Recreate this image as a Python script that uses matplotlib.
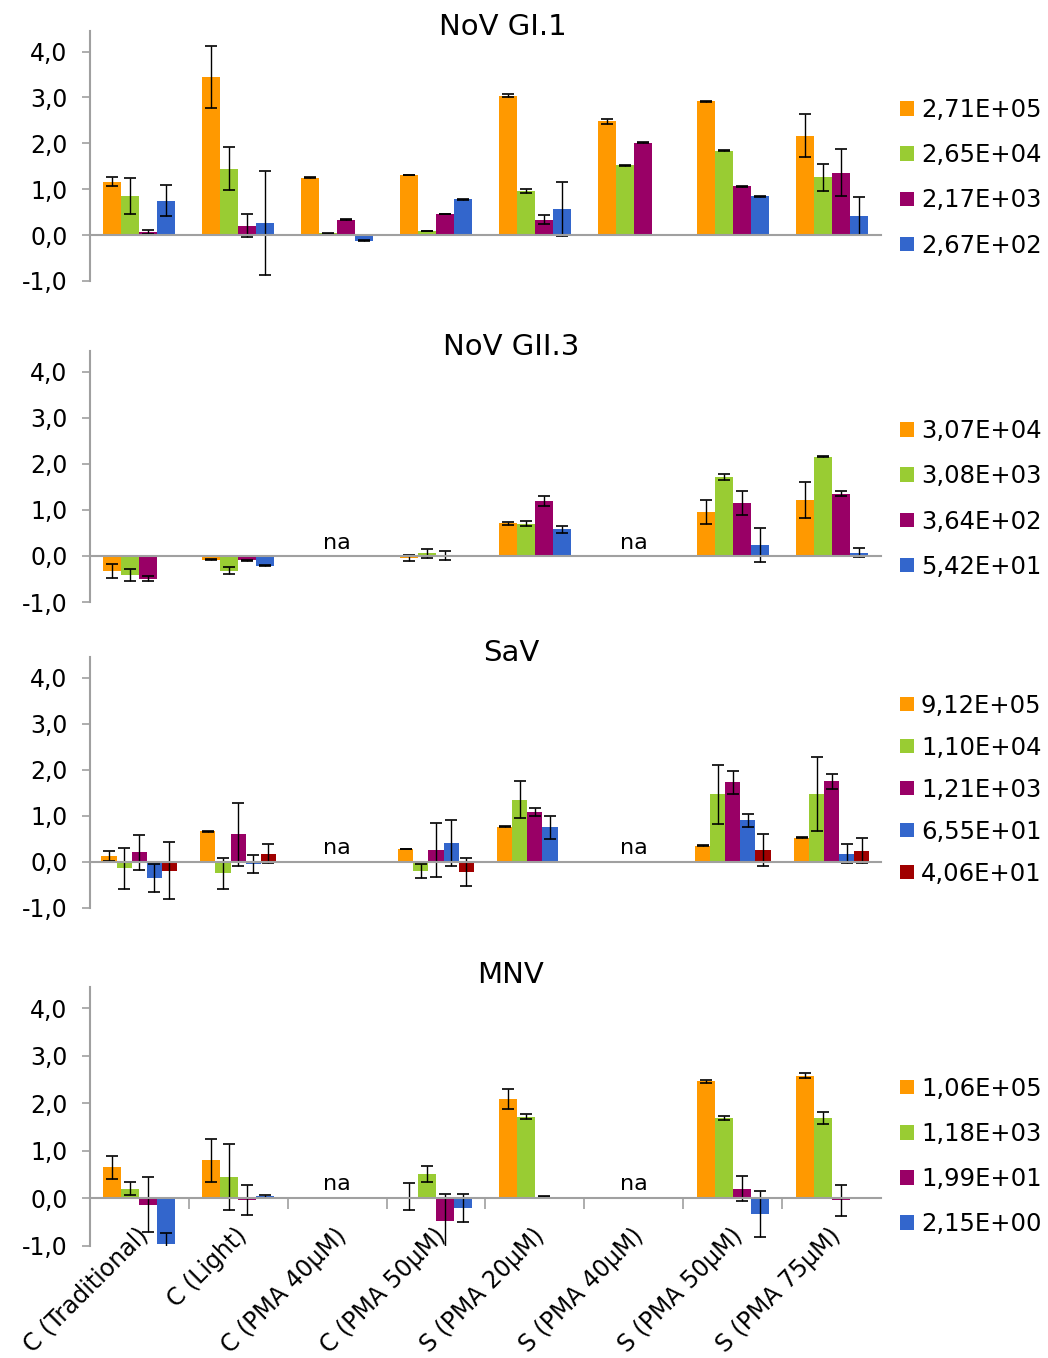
import numpy as np
import matplotlib
matplotlib.use("Agg")
import matplotlib.pyplot as plt
import matplotlib.transforms as mtransforms
from matplotlib.ticker import FuncFormatter

plt.rcParams['font.family'] = ['DejaVu Sans']

nan = np.nan
categories = ["C (Traditional)", "C (Light)", "C (PMA 40µM)", "C (PMA 50µM)",
              "S (PMA 20µM)", "S (PMA 40µM)", "S (PMA 50µM)", "S (PMA 75µM)"]
colors = ["#FF9900", "#99CC33", "#990066", "#3366CC", "#A00000"]

# NoV GI.1
gi1_labels = ["2,71E+05", "2,65E+04", "2,17E+03", "2,67E+02"]
gi1_vals = [[1.16, 3.44, 1.25, 1.31, 3.04, 2.48, 2.92, 2.17],
            [0.85, 1.45, 0.04, 0.09, 0.96, 1.52, 1.84, 1.26],
            [0.07, 0.20, 0.34, 0.46, 0.34, 2.01, 1.06, 1.36],
            [0.75, 0.26, -0.12, 0.78, 0.57, nan, 0.85, 0.42]]
gi1_errs = [[0.10, 0.68, 0.01, 0.01, 0.03, 0.06, 0.01, 0.47],
            [0.40, 0.46, 0.01, 0.01, 0.05, 0.01, 0.01, 0.29],
            [0.04, 0.25, 0.01, 0.01, 0.09, 0.01, 0.01, 0.51],
            [0.34, 1.14, 0.01, 0.01, 0.58, nan, 0.01, 0.42]]

# NoV GII.3
gii3_labels = ["3,07E+04", "3,08E+03", "3,64E+02", "5,42E+01"]
gii3_vals = [[-0.32, -0.08, nan, -0.04, 0.71, nan, 0.96, 1.22],
             [-0.41, -0.32, nan, 0.06, 0.70, nan, 1.72, 2.15],
             [-0.49, -0.09, nan, 0.01, 1.19, nan, 1.15, 1.35],
             [nan, -0.21, nan, nan, 0.58, nan, 0.24, 0.07]]
gii3_errs = [[0.15, 0.01, nan, 0.07, 0.03, nan, 0.26, 0.39],
             [0.13, 0.08, nan, 0.10, 0.05, nan, 0.07, 0.01],
             [0.05, 0.01, nan, 0.10, 0.11, nan, 0.25, 0.05],
             [nan, 0.01, nan, nan, 0.08, nan, 0.37, 0.10]]

# SaV
sav_labels = ["9,12E+05", "1,10E+04", "1,21E+03", "6,55E+01", "4,06E+01"]
sav_vals = [[0.13, 0.67, nan, 0.28, 0.76, nan, 0.35, 0.53],
            [-0.14, -0.25, nan, -0.20, 1.35, nan, 1.47, 1.47],
            [0.21, 0.60, nan, 0.26, 1.09, nan, 1.73, 1.75],
            [-0.35, -0.04, nan, 0.42, 0.75, nan, 0.90, 0.18],
            [-0.19, 0.18, nan, -0.22, nan, nan, 0.26, 0.24]]
sav_errs = [[0.11, 0.01, nan, 0.01, 0.01, nan, 0.01, 0.01],
            [0.45, 0.33, nan, 0.16, 0.40, nan, 0.64, 0.80],
            [0.38, 0.69, nan, 0.58, 0.09, nan, 0.25, 0.17],
            [0.30, 0.20, nan, 0.50, 0.25, nan, 0.14, 0.20],
            [0.62, 0.20, nan, 0.30, nan, nan, 0.34, 0.27]]

# MNV
mnv_labels = ["1,06E+05", "1,18E+03", "1,99E+01", "2,15E+00"]
mnv_vals = [[0.65, 0.80, nan, 0.03, 2.09, nan, 2.46, 2.58],
            [0.20, 0.45, nan, 0.50, 1.72, nan, 1.69, 1.69],
            [-0.14, -0.04, nan, -0.49, 0.03, nan, 0.20, -0.05],
            [-0.96, 0.04, nan, -0.21, nan, nan, -0.34, nan]]
mnv_errs = [[0.24, 0.45, nan, 0.28, 0.22, nan, 0.04, 0.05],
            [0.14, 0.69, nan, 0.17, 0.06, nan, 0.05, 0.13],
            [0.58, 0.31, nan, 0.58, 0.01, nan, 0.27, 0.33],
            [0.23, 0.03, nan, 0.30, nan, nan, 0.48, nan]]

L, W = 0.0855, 0.7555
panels = [
    ("NoV GI.1", gi1_labels, gi1_vals, gi1_errs, [], (L, 0.7931, W, 0.1841), 0.522, 0.016, 0.869, 0.0),
    ("NoV GII.3", gii3_labels, gii3_vals, gii3_errs, [3, 6], (L, 0.5567, W, 0.1848), 0.533, 0.016, 0.6326, 0.28),
    ("SaV", sav_labels, sav_vals, sav_errs, [3, 6], (L, 0.3314, W, 0.1848), 0.532, 0.016, 0.4186, 0.30),
    ("MNV", mnv_labels, mnv_vals, mnv_errs, [3, 6], (L, 0.0828, W, 0.1904), 0.531, 0.046, 0.1484, 0.30),
]

fig = plt.figure(figsize=(10.48, 13.58), dpi=100)
fmt = FuncFormatter(lambda v, p: ("%.1f" % v).replace(".", ","))
gray = "#A0A0A0"
x = np.arange(1, len(categories) + 1)

for idx, (title, labels, vals, errs, na_pos, rect, tx, tdy, legy, nay) in enumerate(panels):
    ax = fig.add_axes(rect)
    n = len(vals)
    total = 0.73 if n == 4 else 0.76
    w = total / n
    handles = []
    for s in range(n):
        xs = x - total / 2 + w * (s + 0.5)
        b = ax.bar(xs, vals[s], width=w, color=colors[s], label=labels[s], zorder=2)
        handles.append(b)
        ax.errorbar(xs, vals[s], yerr=errs[s], fmt='none', ecolor='black',
                    elinewidth=1, capsize=4, capthick=1.2, zorder=3)
    ax.set_xlim(0.5, len(categories) + 0.5)
    ax.set_ylim(-1.0, 4.45)
    ax.set_yticks([-1, 0, 1, 2, 3, 4])
    ax.yaxis.set_major_formatter(fmt)
    ax.tick_params(axis='y', labelsize=17, length=6, color=gray, width=1.2, pad=10)
    for sp in ['top', 'right']:
        ax.spines[sp].set_visible(False)
    ax.spines['left'].set_color(gray)
    ax.spines['left'].set_linewidth(1.5)
    ax.spines['bottom'].set_position(('data', 0))
    ax.spines['bottom'].set_color(gray)
    ax.spines['bottom'].set_linewidth(1.5)
    ax.spines['bottom'].set_zorder(4)
    if idx == 3:
        ax.set_xticks(x[:-1] + 0.5)
        ax.set_xticklabels([])
        ax.tick_params(axis='x', length=8, color=gray, width=1.2, direction='out')
        trans = mtransforms.blended_transform_factory(ax.transData, ax.transAxes)
        for i, c in zip(x, categories):
            ax.text(i - 0.03, 0.085, c, transform=trans, rotation=45,
                    ha='right', va='top', rotation_mode='anchor', fontsize=17)
    else:
        ax.set_xticks([])
    for p in na_pos:
        ax.text(p, nay, "na", ha='center', va='center', fontsize=16)
    ax.text(tx, 1.0 + tdy, title, transform=ax.transAxes, ha='center',
            va='center', fontsize=21)
    leg = ax.legend(handles=handles, loc='center left', bbox_to_anchor=(0.859, legy),
                    bbox_transform=fig.transFigure, frameon=False, fontsize=17.5,
                    handlelength=0.55, handleheight=0.55, handletextpad=0.3,
                    labelspacing=0.87 if n == 4 else 0.74, borderpad=0, borderaxespad=0)

fig.savefig("out.png", dpi=100)
